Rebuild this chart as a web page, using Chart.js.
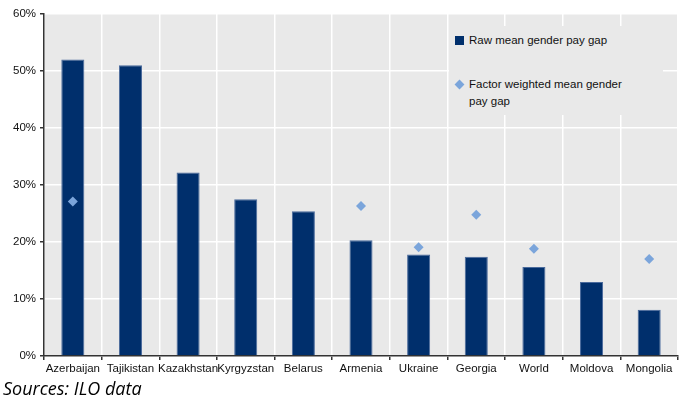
<!DOCTYPE html>
<html>
<head>
<meta charset="utf-8">
<script src="https://cdn.jsdelivr.net/npm/chart.js@4/dist/chart.umd.min.js"></script>
<style>
  html, body { margin: 0; padding: 0; background: #fff; }
  #wrap { position: relative; width: 683px; height: 402px; }
  #c { position: absolute; left: 0; top: 0; }
  #legend { position: absolute; left: 449px; top: 26px; width: 214px; height: 89px; background: #e9e9e9;
    font-family: "Liberation Sans", Arial, sans-serif; font-size: 11.5px; color: #111; }
  .li { position: absolute; left: 20px; line-height: 17px; }
  .sq { position: absolute; left: 6px; width: 9px; height: 9px; background: #002f6c; }
  .dm { position: absolute; left: 7px; width: 7px; height: 7px; background: #7ba5db; transform: rotate(45deg); }
  #src { position: absolute; left: 3px; top: 376px; font-family: "Open Sans", sans-serif; font-style: italic;
    font-size: 18px; color: #000; }
</style>
</head>
<body>
<div id="wrap">
  <canvas id="c" width="683" height="402"></canvas>
  <div id="legend">
    <div class="sq" style="top:10px"></div>
    <div class="li" style="top:6px">Raw mean gender pay gap</div>
    <div class="dm" style="top:55px"></div>
    <div class="li" style="top:50px">Factor weighted mean gender<br>pay gap</div>
  </div>
  <div id="src">Sources: ILO data</div>
</div>
<script>
const categories = ["Azerbaijan","Tajikistan","Kazakhstan","Kyrgyzstan","Belarus","Armenia","Ukraine","Georgia","World","Moldova","Mongolia"];
const rawGap = [52.0, 51.0, 32.2, 27.5, 25.4, 20.3, 17.8, 17.4, 15.6, 13.0, 8.1];
const weightedGap = [27.1, null, null, null, null, 26.3, 19.1, 24.8, 18.8, null, 17.0];
const yTicks = [0, 10, 20, 30, 40, 50, 60];

const bgPlugin = {
  id: 'bg',
  beforeDraw(chart) {
    const {ctx, chartArea: a} = chart;
    ctx.save();
    ctx.fillStyle = '#e9e9e9';
    ctx.fillRect(a.left, a.top, a.right - a.left, a.bottom - a.top);
    ctx.restore();
  }
};

new Chart(document.getElementById('c'), {
  data: {
    labels: categories,
    datasets: [
      {
        type: 'scatter',
        label: 'Factor weighted mean gender pay gap',
        data: weightedGap,
        showLine: false,
        pointStyle: 'rectRot',
        pointRadius: 5,
        pointBackgroundColor: '#7ba5db',
        pointBorderWidth: 0,
        order: 0
      },
      {
        type: 'bar',
        label: 'Raw mean gender pay gap',
        data: rawGap,
        backgroundColor: '#002f6c',
        borderColor: '#4a6a9c',
        borderWidth: 1,
        categoryPercentage: 1,
        barPercentage: 0.4,
        order: 1
      }
    ]
  },
  options: {
    responsive: false,
    animation: false,
    layout: { padding: { left: 0, right: 3, top: 14, bottom: 24 } },
    plugins: { legend: { display: false }, tooltip: { enabled: false } },
    scales: {
      x: {
        type: 'category',
        offset: true,
        grid: { offset: true, color: '#ffffff', lineWidth: 1.5, drawTicks: true, tickLength: 4, tickColor: '#333333' },
        border: { display: true, color: '#333333', width: 1.5 },
        ticks: { autoSkip: false, maxRotation: 0, minRotation: 0, color: '#111',
          font: { family: '"Liberation Sans", Arial, sans-serif', size: 11.5 }, padding: 2 },
        afterFit(s) { s.height = 22; }
      },
      y: {
        min: 0, max: 60,
        afterBuildTicks(s) { s.ticks = yTicks.map(v => ({ value: v })); },
        grid: { color: '#ffffff', lineWidth: 1.5, tickLength: 4, tickColor: '#333333' },
        border: { display: true, color: '#333333', width: 1.5 },
        ticks: { color: '#111', callback: v => v + '%', padding: 4,
          font: { family: '"Liberation Sans", Arial, sans-serif', size: 11.5 } },
        afterFit(s) { s.width = 44; }
      }
    }
  },
  plugins: [bgPlugin]
});
</script>
</body>
</html>
